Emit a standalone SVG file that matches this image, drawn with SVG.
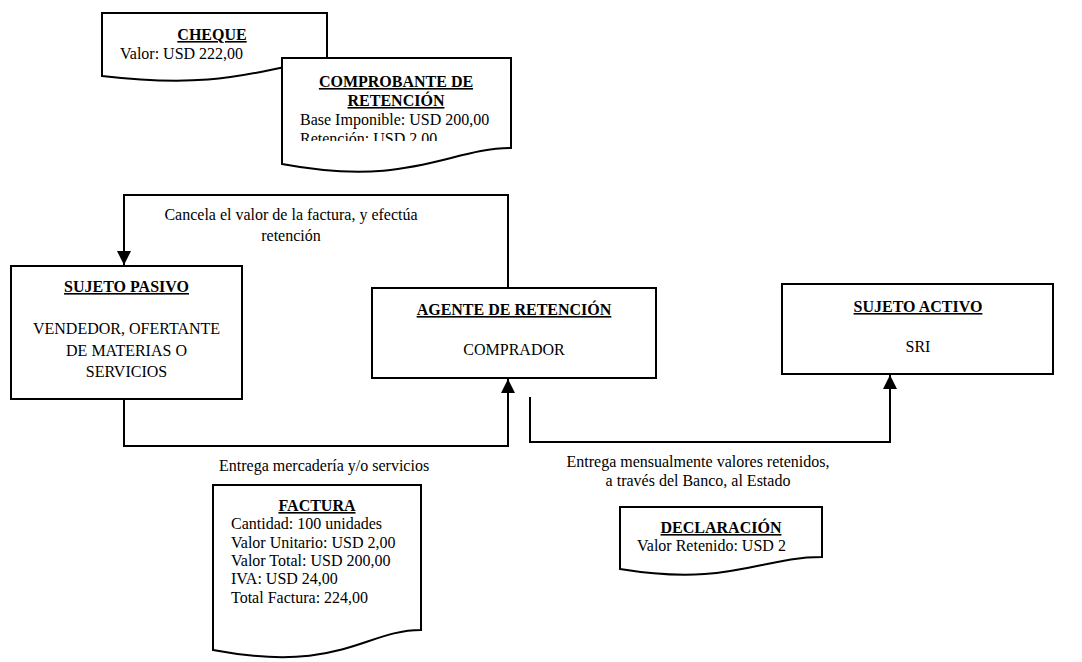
<svg xmlns="http://www.w3.org/2000/svg" width="1082" height="662" viewBox="0 0 1082 662">
<style>
.box{fill:#fff;stroke:#000;stroke-width:2}
.doc{fill:#fff;stroke:#000;stroke-width:2;stroke-linejoin:miter}
.t{font-family:'Liberation Serif','Times New Roman',serif;font-size:16px;fill:#000}
.c{text-anchor:middle}
.b{font-weight:bold;text-decoration:underline}
.conn{fill:none;stroke:#000;stroke-width:2}
</style>
<defs>
<marker id="arr" markerUnits="userSpaceOnUse" markerWidth="14" markerHeight="14" refX="14" refY="7" orient="auto">
<path d="M0,0 L14,7 L0,14 Z" fill="#000"/>
</marker>
<clipPath id="clipComp"><rect x="282" y="58" width="229" height="83"/></clipPath>
</defs>
<rect width="1082" height="662" fill="#fff"/>

<g id="connectors">
<path class="conn" d="M508,288 V195 H124 V265" marker-end="url(#arr)"/>
<path class="conn" d="M124,399 V446 H508 V379" marker-end="url(#arr)"/>
<path class="conn" d="M530,397 V442 H890 V375" marker-end="url(#arr)"/>
<text class="t c" x="291" y="220">Cancela el valor de la factura, y efectúa</text>
<text class="t c" x="291" y="241">retención</text>
<text class="t" x="219" y="471">Entrega mercadería y/o servicios</text>
<text class="t c" x="698" y="467">Entrega mensualmente valores retenidos,</text>
<text class="t c" x="698" y="486">a través del Banco, al Estado</text>
</g>

<g id="cheque">
<path class="doc" d="M102,13 H327 V62 C270,62 240,92 102,76 Z"/>
<text class="t c b" x="212" y="40">CHEQUE</text>
<text class="t" x="120" y="59">Valor: USD 222,00</text>
</g>

<g id="comprobante">
<path class="doc" d="M282,58 H511 V148 C450,148 410,188 282,164 Z"/>
<text class="t c b" x="396" y="87">COMPROBANTE DE</text>
<text class="t c b" x="396" y="106">RETENCIÓN</text>
<text class="t" x="300" y="125">Base Imponible: USD 200,00</text>
<text class="t" x="300" y="144" clip-path="url(#clipComp)">Retención: USD 2,00</text>
</g>

<g id="sujeto-pasivo">
<rect class="box" x="11" y="266" width="231" height="133"/>
<text class="t c b" x="126.5" y="292">SUJETO PASIVO</text>
<text class="t c" x="126.5" y="334">VENDEDOR, OFERTANTE</text>
<text class="t c" x="126.5" y="355.5">DE MATERIAS O</text>
<text class="t c" x="126.5" y="377">SERVICIOS</text>
</g>

<g id="agente">
<rect class="box" x="372" y="288" width="284" height="90"/>
<text class="t c b" x="514" y="315">AGENTE DE RETENCIÓN</text>
<text class="t c" x="514" y="355">COMPRADOR</text>
</g>

<g id="sujeto-activo">
<rect class="box" x="782" y="284" width="271" height="90"/>
<text class="t c b" x="918" y="312">SUJETO ACTIVO</text>
<text class="t c" x="918" y="352">SRI</text>
</g>

<g id="factura">
<path class="doc" d="M213,485 H421 V630 C365,630 340,674 213,650 Z"/>
<text class="t c b" x="317" y="511">FACTURA</text>
<text class="t" x="231" y="529">Cantidad: 100 unidades</text>
<text class="t" x="231" y="547.5">Valor Unitario: USD 2,00</text>
<text class="t" x="231" y="566">Valor Total: USD 200,00</text>
<text class="t" x="231" y="584">IVA: USD 24,00</text>
<text class="t" x="231" y="602.5">Total Factura: 224,00</text>
</g>

<g id="declaracion">
<path class="doc" d="M620,507 H822 V557 C760,557 730,587 620,569 Z"/>
<text class="t c b" x="721" y="533">DECLARACIÓN</text>
<text class="t" x="637" y="551">Valor Retenido: USD 2</text>
</g>
</svg>
